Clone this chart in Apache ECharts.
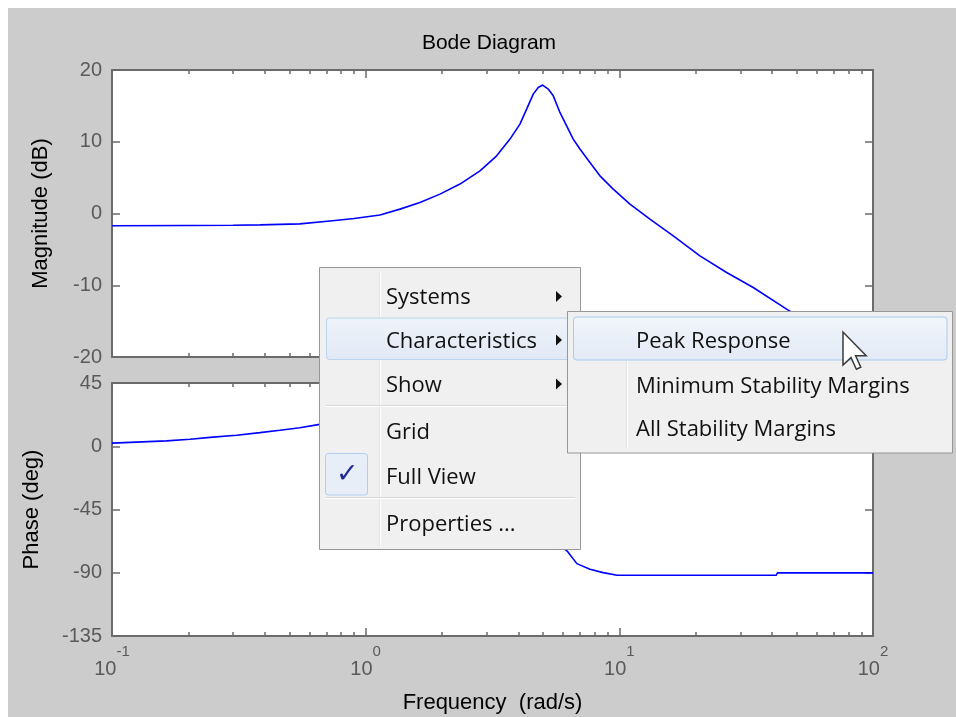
<!DOCTYPE html>
<html>
<head>
<meta charset="utf-8">
<script src="https://cdn.jsdelivr.net/npm/echarts@6/dist/echarts.min.js"></script>
<style>
  html, body { margin: 0; padding: 0; background: #ffffff; }
  #bg { position: absolute; left: 8px; top: 8px; width: 948px; height: 709px; background: #cccccc; }
  #chart { position: absolute; left: 0; top: 0; width: 956px; height: 717px; }
</style>
</head>
<body>
<div id="bg"></div>
<div id="chart"></div>
<script>
// ---- data ----
const freqMag = [0.1, 0.2, 0.3, 0.383, 0.55, 0.74, 0.9, 1.139, 1.365, 1.637, 1.963, 2.353, 2.822, 3.284, 3.706, 4.057, 4.311, 4.577, 4.789, 4.985, 5.245, 5.49, 5.832, 6.198, 6.58, 6.993, 7.657, 8.386, 9.46, 11.01, 13.2, 16.31, 20.78, 26.48, 33.71, 45.64, 65, 100];
const magDb   = [-1.70, -1.67, -1.63, -1.58, -1.45, -1.0, -0.7, -0.22, 0.61, 1.53, 2.70, 4.10, 5.95, 8.04, 10.37, 12.46, 14.55, 16.64, 17.56, 17.9, 17.34, 16.4, 14.08, 12.22, 10.37, 8.98, 7.11, 5.25, 3.40, 1.31, -0.78, -3.11, -5.9, -8.22, -10.31, -13.32, -16.6, -20.3];

const freqPhase = [0.1, 0.164, 0.203, 0.25, 0.31, 0.383, 0.459, 0.55, 0.65, 0.8, 1.0, 1.5, 2.0, 2.5, 3.0, 3.5, 4.0, 4.5, 5.0, 5.5, 6.0, 6.27, 6.8, 7.66, 8.63, 9.8, 20, 41.5, 42, 100];
const phaseDeg  = [2.2, 3.8, 5.0, 6.5, 7.8, 9.7, 11.4, 13.2, 15.4, 18.0, 21.0, 28.0, 33.0, 37.0, 38.5, 37.5, 32.0, 17.0, -17.0, -55.0, -72.0, -75.2, -83.5, -87.5, -89.9, -91.8, -91.8, -91.8, -90.1, -90.1];

const freqMajorTicks = [0.1, 1, 10, 100];
const freqMinorTicks = [0.2, 0.3, 0.4, 0.5, 0.6, 0.7, 0.8, 0.9, 2, 3, 4, 5, 6, 7, 8, 9, 20, 30, 40, 50, 60, 70, 80, 90];
const magRange = [-20, 20];
const magStep = 10;
const phaseRange = [-135, 45];
const phaseStep = 45;

const titleText = 'Bode Diagram';
const magName = 'Magnitude (dB)';
const phaseName = 'Phase (deg)';
const freqName = 'Frequency  (rad/s)';
const menuItems = ['Systems', 'Characteristics', 'Show', 'Grid', 'Full View', 'Properties ...'];
const menuArrows = [true, true, true, false, false, false];
const subItems = ['Peak Response', 'Minimum Stability Margins', 'All Stability Margins'];

// ---- styles ----
const AX = '#6b6b6b';
const LBL = '#5a5a5a';
const FONT = '"Liberation Sans", Arial, sans-serif';
const MENU_FONT = '"Open Sans", "Noto Sans", sans-serif';

function xAxes(gridIndex, withLabels) {
  const base = { type: 'log', logBase: 10, min: 0.1, max: 100, gridIndex: gridIndex, splitLine: { show: false } };
  return [
    Object.assign({}, base, {
      position: 'bottom',
      axisLine: { show: true, onZero: false, lineStyle: { color: AX, width: 2 } },
      axisTick: { show: true, inside: true, length: 8, customValues: freqMajorTicks, lineStyle: { color: AX, width: 1.5 } },
      axisLabel: withLabels ? {
        show: true, margin: 8, customValues: freqMajorTicks,
        formatter: function (v) { return '{b|10}{s|' + Math.round(Math.log10(v)) + '}'; },
        rich: {
          b: { fontSize: 20, fontFamily: FONT, color: LBL, lineHeight: 50, verticalAlign: 'middle' },
          s: { fontSize: 15, fontFamily: FONT, color: LBL, lineHeight: 16, verticalAlign: 'top' }
        }
      } : { show: false },
      name: withLabels ? freqName : '',
      nameLocation: 'middle', nameGap: 56,
      nameTextStyle: { fontSize: 22, fontFamily: FONT, color: '#000' }
    }),
    Object.assign({}, base, {
      position: 'top',
      axisLine: { show: true, onZero: false, lineStyle: { color: AX, width: 2 } },
      axisTick: { show: true, inside: true, length: 8, customValues: freqMajorTicks, lineStyle: { color: AX, width: 1.5 } },
      axisLabel: { show: false }
    }),
    Object.assign({}, base, {
      position: 'bottom',
      axisLine: { show: false, onZero: false },
      axisTick: { show: true, inside: true, length: 4, customValues: freqMinorTicks, lineStyle: { color: AX, width: 1.5 } },
      axisLabel: { show: false }
    }),
    Object.assign({}, base, {
      position: 'top',
      axisLine: { show: false, onZero: false },
      axisTick: { show: true, inside: true, length: 4, customValues: freqMinorTicks, lineStyle: { color: AX, width: 1.5 } },
      axisLabel: { show: false }
    })
  ];
}

function yAxes(gridIndex, range, step, name, gap) {
  const base = { type: 'value', gridIndex: gridIndex, min: range[0], max: range[1], interval: step, splitLine: { show: false } };
  return [
    Object.assign({}, base, {
      position: 'left',
      axisLine: { show: true, onZero: false, lineStyle: { color: AX, width: 2 } },
      axisTick: { show: true, inside: true, length: 8, lineStyle: { color: AX, width: 1.5 } },
      axisLabel: { show: true, margin: 10, fontSize: 20, fontFamily: FONT, color: LBL },
      name: name, nameLocation: 'middle', nameGap: gap,
      nameTextStyle: { fontSize: 22, fontFamily: FONT, color: '#000' }
    }),
    Object.assign({}, base, {
      position: 'right',
      axisLine: { show: true, onZero: false, lineStyle: { color: AX, width: 2 } },
      axisTick: { show: true, inside: true, length: 8, lineStyle: { color: AX, width: 1.5 } },
      axisLabel: { show: false }
    })
  ];
}

// ---- context menu graphics ----
const Z = 100;
const g = [];
function rect(x, y, w, h, r, fill, stroke, lw) {
  g.push({ type: 'rect', z: Z, silent: true, shape: { x: x, y: y, width: w, height: h, r: r }, style: { fill: fill, stroke: stroke, lineWidth: lw || 1 } });
}
function line(x1, y1, x2, y2, color) {
  g.push({ type: 'line', z: Z, silent: true, shape: { x1: x1, y1: y1, x2: x2, y2: y2 }, style: { stroke: color, lineWidth: 1 } });
}
function text(x, y, t, size, color, family) {
  g.push({ type: 'text', z: Z + 1, silent: true, x: x, y: y, style: { text: t, fill: color, font: size + 'px ' + family, textAlign: 'left', textVerticalAlign: 'middle', verticalAlign: 'middle' } });
}
// main menu
rect(319.5, 267.5, 261, 282, 0, '#f0f0f0', '#979797', 1);
line(379.5, 271, 379.5, 546, '#e2e3e3');
line(380.5, 271, 380.5, 546, '#ffffff');
const menuRowY = [298, 341.5, 385.5, 433, 478, 524.5];
rect(326.5, 318, 252, 41.5, 3, new echarts.graphic.LinearGradient(0, 0, 0, 1, [{ offset: 0, color: '#eef3fa' }, { offset: 1, color: '#e1e9f5' }]), '#bcd3ef', 1);
line(326, 405.5, 575, 405.5, '#d7d7d7');
line(326, 406.5, 575, 406.5, '#ffffff');
line(326, 497.5, 575, 497.5, '#d7d7d7');
line(326, 498.5, 575, 498.5, '#ffffff');
rect(325.5, 453.5, 42, 41.5, 3, '#e8eef8', '#b3cdee', 1);
text(336, 474.5, '\u2713', 27, '#1f2b8f', '"DejaVu Sans", sans-serif');
menuItems.forEach(function (t, i) {
  text(386, menuRowY[i], t, 22, '#111111', MENU_FONT);
  if (menuArrows[i]) {
    const cyA = menuRowY[i] - 1.5;
    g.push({ type: 'polygon', z: Z + 1, silent: true, shape: { points: [[556, cyA - 5.5], [556, cyA + 5.5], [562, cyA]] }, style: { fill: '#111111' } });
  }
});
// sub menu
rect(567.5, 311.5, 385, 141.5, 0, '#f0f0f0', '#979797', 1);
line(626.5, 316, 626.5, 448, '#e2e3e3');
line(627.5, 316, 627.5, 448, '#ffffff');
rect(573.5, 317, 373.5, 43, 3, new echarts.graphic.LinearGradient(0, 0, 0, 1, [{ offset: 0, color: '#f1f5fb' }, { offset: 1, color: '#e2eaf6' }]), '#a9cbf2', 1);
const subRowY = [341.5, 386.5, 429.8];
subItems.forEach(function (t, i) { text(636, subRowY[i], t, 22, '#111111', MENU_FONT); });
// mouse pointer
const cx = 843, cy = 332, sc = 2.0;
const arrowPts = [[0, 0], [0, 16.5], [4, 12.8], [6.7, 18.6], [8.9, 17.6], [6.3, 11.9], [11.6, 11.9]].map(function (p) { return [cx + p[0] * sc, cy + p[1] * sc]; });
g.push({ type: 'polygon', z: Z + 2, silent: true, shape: { points: arrowPts }, style: { fill: '#ffffff', stroke: '#3a3a3a', lineWidth: 1.5, lineJoin: 'miter' } });

const chart = echarts.init(document.getElementById('chart'), null, { renderer: 'canvas' });
chart.setOption({
  animation: false,
  backgroundColor: 'transparent',
  title: {
    text: titleText, left: 489, top: 33, textAlign: 'center', padding: 0,
    textStyle: { fontSize: 21, fontWeight: 'normal', fontFamily: FONT, color: '#000' }
  },
  grid: [
    { left: 112, top: 70, width: 761, height: 287, show: true, backgroundColor: '#ffffff', borderWidth: 0, containLabel: false },
    { left: 112, top: 383, width: 761, height: 253, show: true, backgroundColor: '#ffffff', borderWidth: 0, containLabel: false }
  ],
  xAxis: xAxes(0, false).concat(xAxes(1, true)),
  yAxis: yAxes(0, magRange, magStep, magName, 60).concat(yAxes(1, phaseRange, phaseStep, phaseName, 69)),
  series: [
    {
      type: 'line', xAxisIndex: 0, yAxisIndex: 0, showSymbol: false, clip: true,
      lineStyle: { color: '#0000ff', width: 1.6 },
      data: freqMag.map(function (f, i) { return [f, magDb[i]]; })
    },
    {
      type: 'line', xAxisIndex: 4, yAxisIndex: 2, showSymbol: false, clip: true,
      lineStyle: { color: '#0000ff', width: 1.6 },
      data: freqPhase.map(function (f, i) { return [f, phaseDeg[i]]; })
    }
  ],
  graphic: { elements: g }
});
</script>
</body>
</html>
